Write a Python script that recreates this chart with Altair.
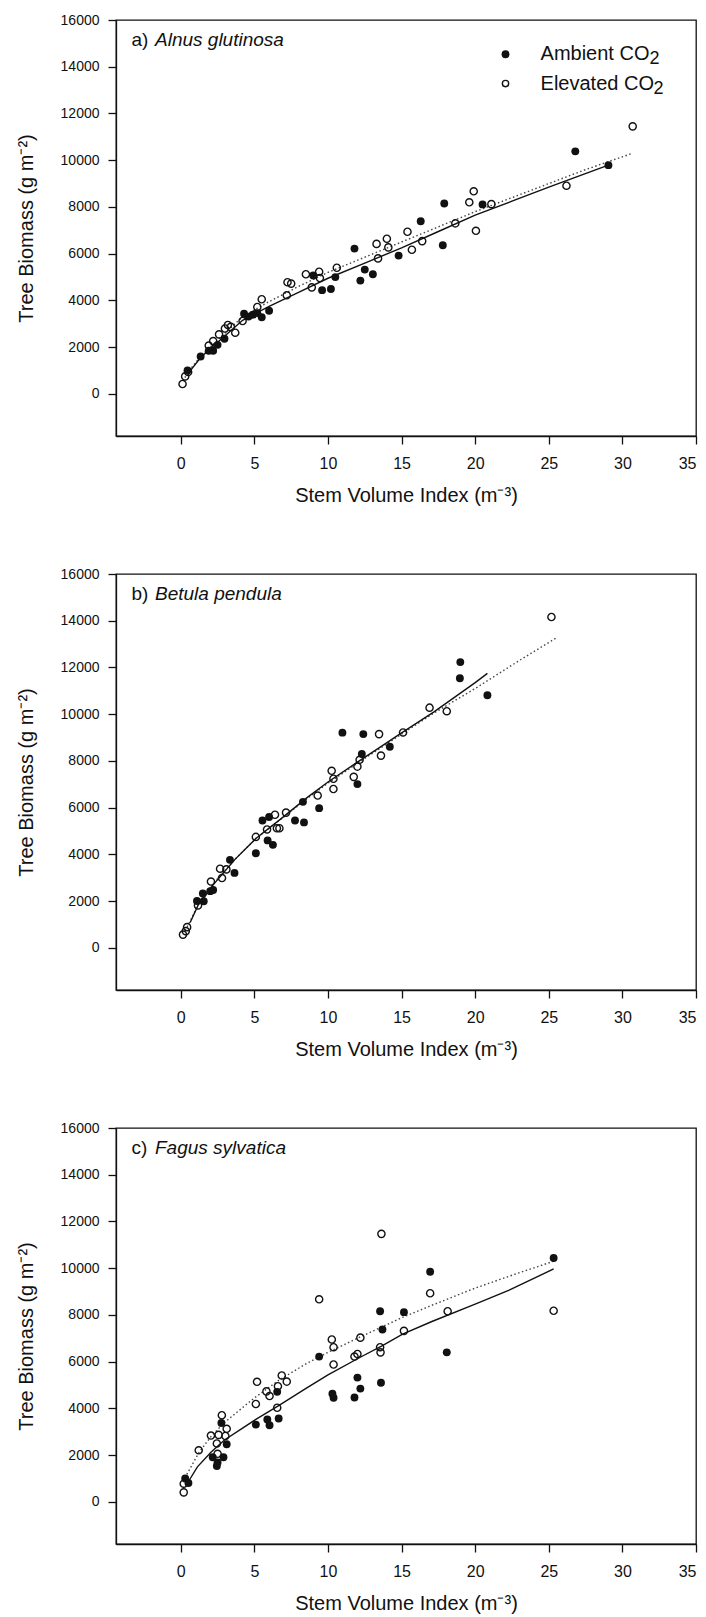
import altair as alt
import pandas as pd

FONT = "Liberation Sans"

# ---------------- Panel a) Alnus glutinosa ----------------
a_amb_x = [0.46, 1.35, 1.9, 2.2, 2.5, 2.97, 4.3, 4.6, 4.9, 5.2, 5.5, 6.0, 9.0, 9.6, 10.2, 10.5,
           11.8, 12.2, 12.5, 13.05, 14.8, 16.3, 17.8, 17.9, 20.5, 26.8, 29.05]
a_amb_y = [1000, 1600, 1850, 1850, 2100, 2360, 3430, 3310, 3390, 3460, 3280, 3560, 5070, 4440, 4490, 5000,
           6220, 4850, 5320, 5120, 5920, 7390, 6360, 8150, 8110, 10380, 9790]
a_ele_x = [0.12, 0.3, 0.5, 1.9, 2.2, 2.6, 3.0, 3.2, 3.4, 3.7, 4.2, 5.2, 5.5, 7.2, 7.25, 7.5, 8.5, 8.9,
           9.4, 9.45, 10.6, 13.3, 13.4, 14.0, 14.1, 15.4, 15.7, 16.4, 18.65, 19.6, 19.9, 20.05, 21.1,
           26.2, 30.7]
a_ele_y = [425, 750, 940, 2070, 2260, 2550, 2800, 2950, 2870, 2620, 3120, 3720, 4050, 4220, 4780, 4720,
           5120, 4560, 5230, 4960, 5400, 6420, 5800, 6640, 6270, 6940, 6170, 6540, 7300, 8200, 8670,
           6980, 8120, 8910, 11450]
a_fit_amb_x = [0.52, 1.35, 2.66, 4.2, 6.0, 8.0, 10.0, 12.5, 15.0, 17.5, 20.0, 22.5, 25.0, 29.05]
a_fit_amb_y = [890, 1560, 2300, 3150, 3750, 4350, 4950, 5600, 6250, 6950, 7650, 8250, 8850, 9790]
a_fit_ele_x = [0.15, 0.5, 1.35, 2.66, 4.2, 6.0, 8.0, 10.0, 12.5, 15.0, 17.5, 20.0, 22.5, 25.0, 27.5, 30.7]
a_fit_ele_y = [550, 950, 1600, 2400, 3300, 3950, 4600, 5200, 5850, 6500, 7150, 7800, 8400, 9000, 9600, 10300]

# ---------------- Panel b) Betula pendula ----------------
b_amb_x = [1.1, 1.5, 1.56, 2.0, 2.2, 3.34, 3.65, 5.1, 5.55, 6.0, 5.9, 6.26, 7.76, 8.37, 8.3, 9.4,
           10.98, 12.0, 12.3, 12.4, 14.2, 18.96, 18.99, 20.83]
b_amb_y = [2010, 2330, 2000, 2430, 2480, 3770, 3210, 4050, 5450, 5600, 4600, 4410, 5450, 5370, 6250, 5980,
           9210, 7010, 8300, 9150, 8610, 11540, 12230, 10810]
b_ele_x = [0.15, 0.34, 0.43, 1.17, 2.05, 2.8, 2.67, 3.1, 5.1, 5.86, 6.4, 6.53, 6.7, 7.15, 9.3, 10.25,
           10.37, 10.37, 11.75, 12.0, 12.15, 13.47, 13.6, 15.1, 16.9, 18.07, 25.18]
b_ele_y = [570, 720, 890, 1820, 2840, 2990, 3390, 3360, 4750, 5070, 5700, 5120, 5120, 5790, 6520, 7580,
           7240, 6800, 7320, 7760, 8050, 9150, 8230, 9220, 10280, 10130, 14160]
b_fit_amb_x = [0.64, 1.17, 2.2, 3.7, 5.1, 6.78, 8.6, 10.0, 12.0, 13.8, 15.0, 17.2, 20.0, 20.83]
b_fit_amb_y = [1085, 1820, 2700, 3800, 4680, 5510, 6440, 7100, 7950, 8700, 9200, 10100, 11350, 11750]
b_fit_ele_x = [0.3, 0.64, 1.17, 2.2, 3.7, 5.1, 6.78, 8.6, 10.0, 12.0, 13.8, 15.0, 17.2, 20.0, 21.0, 23.0, 25.6]
b_fit_ele_y = [750, 1150, 1850, 2750, 3800, 4680, 5500, 6400, 7050, 7900, 8650, 9150, 10050, 11100, 11500, 12300, 13300]

# ---------------- Panel c) Fagus sylvatica ----------------
c_amb_x = [0.3, 0.52, 2.17, 2.45, 2.5, 2.76, 2.9, 3.12, 5.1, 5.88, 6.03, 6.55, 6.65, 9.4, 10.3, 10.38,
           11.8, 12.0, 12.2, 13.54, 13.6, 13.7, 15.16, 16.94, 18.07, 25.33]
c_amb_y = [1000, 810, 1910, 1540, 1690, 3380, 1910, 2470, 3310, 3530, 3280, 4710, 3570, 6220, 4630, 4460,
           4470, 5320, 4850, 8160, 5100, 7380, 8120, 9850, 6400, 10440]
c_ele_x = [0.2, 0.2, 1.22, 2.05, 2.45, 2.5, 2.57, 2.79, 3.12, 3.03, 5.1, 5.18, 5.82, 6.03, 6.55, 6.6,
           6.86, 7.2, 9.4, 10.26, 10.38, 10.38, 11.8, 12.0, 12.2, 13.54, 13.57, 13.63, 15.16, 16.94,
           18.13, 25.33]
c_ele_y = [410, 780, 2210, 2840, 2500, 2060, 2870, 3710, 3130, 2820, 4190, 5140, 4730, 4530, 4030, 4950,
           5410, 5150, 8670, 6950, 6620, 5880, 6220, 6330, 7030, 6620, 6400, 11470, 7320, 8930,
           8160, 8180]
c_fit_amb_x = [0.46, 1.13, 2.05, 2.97, 4.2, 5.1, 6.65, 8.48, 10.0, 12.16, 13.7, 15.07, 17.06, 20.0, 22.27, 25.33]
c_fit_amb_y = [810, 1500, 2130, 2650, 3160, 3530, 4120, 4850, 5440, 6180, 6690, 7180, 7720, 8460, 9050, 9970]
c_fit_ele_x = [0.28, 1.22, 2.05, 2.97, 5.0, 6.65, 8.48, 10.0, 12.16, 15.07, 17.0, 20.0, 22.5, 25.33]
c_fit_ele_y = [1030, 2100, 2800, 3400, 4450, 5200, 5900, 6400, 7050, 7900, 8400, 9150, 9700, 10300]

panel_ids = ["a)", "b)", "c)"]
species = ["Alnus glutinosa", "Betula pendula", "Fagus sylvatica"]

legend_labels = ["Ambient CO", "Elevated CO"]
legend_sub = ["2", "2"]
legend_y = [14536, 13281]

x_ticks = [0, 5, 10, 15, 20, 25, 30, 35]
y_ticks = [0, 2000, 4000, 6000, 8000, 10000, 12000, 14000, 16000]

X_DOMAIN = [-4.4, 35]
Y_DOMAIN = [-1800, 16000]

xs = alt.Scale(domain=X_DOMAIN, nice=False, zero=False)
ys = alt.Scale(domain=Y_DOMAIN, nice=False, zero=False)

x_axis = alt.Axis(values=x_ticks, format="d", title="Stem Volume Index (m\u207b\u00b3)",
                  labelFontSize=16, titleFontSize=20, labelPadding=11, titlePadding=14,
                  tickSize=8, grid=False, labelFont=FONT, titleFont=FONT,
                  titleFontWeight="normal", labelColor="#111", titleColor="#111",
                  domainColor="#111", tickColor="#111")
y_axis = alt.Axis(values=y_ticks, format="d", title="Tree Biomass (g m\u207b\u00b2)",
                  labelFontSize=14, titleFontSize=20, labelPadding=9, titlePadding=24,
                  tickSize=8, grid=False, labelFont=FONT, titleFont=FONT,
                  titleFontWeight="normal", labelColor="#111", titleColor="#111",
                  domainColor="#111", tickColor="#111")


def panel(i, amb_x, amb_y, ele_x, ele_y, fa_x, fa_y, fe_x, fe_y, with_legend=False):
    amb = pd.DataFrame({"x": amb_x, "y": amb_y})
    ele = pd.DataFrame({"x": ele_x, "y": ele_y})
    fa = pd.DataFrame({"x": fa_x, "y": fa_y})
    fe = pd.DataFrame({"x": fe_x, "y": fe_y})

    enc = dict(x=alt.X("x:Q", scale=xs, axis=x_axis), y=alt.Y("y:Q", scale=ys, axis=y_axis))
    penc = dict(x=alt.X("x:Q", scale=xs), y=alt.Y("y:Q", scale=ys))

    line_a = alt.Chart(fa).mark_line(color="#111", strokeWidth=1.4).encode(**enc)
    line_e = alt.Chart(fe).mark_line(color="#444", strokeWidth=1.4, strokeDash=[1.5, 2.5]).encode(**enc)
    pts_e = alt.Chart(ele).mark_point(shape="circle", filled=False, size=52, stroke="#111",
                                      strokeWidth=1.4, opacity=1).encode(**enc)
    pts_a = alt.Chart(amb).mark_point(shape="circle", filled=True, size=62, color="#111",
                                      opacity=1).encode(**enc)

    lab = pd.DataFrame({"x": [-3.35], "y": [15150], "t": [panel_ids[i]]})
    sp = pd.DataFrame({"x": [-1.75], "y": [15150], "t": [species[i]]})
    t1 = alt.Chart(lab).mark_text(align="left", baseline="middle", fontSize=19, font=FONT,
                                  color="#111").encode(text="t:N", **penc)
    t2 = alt.Chart(sp).mark_text(align="left", baseline="middle", fontSize=19, font=FONT,
                                 fontStyle="italic", color="#111").encode(text="t:N", **penc)

    layers = [line_e, line_a, pts_e, pts_a, t1, t2]

    if with_legend:
        lg_f = pd.DataFrame({"x": [22.06], "y": [legend_y[0]]})
        lg_o = pd.DataFrame({"x": [22.06], "y": [legend_y[1]]})
        lg_t = pd.DataFrame({"x": [24.44, 24.44], "y": legend_y, "t": legend_labels})
        lg_s1 = pd.DataFrame({"x": [24.44], "y": [legend_y[0]], "t": [legend_sub[0]]})
        lg_s2 = pd.DataFrame({"x": [24.44], "y": [legend_y[1]], "t": [legend_sub[1]]})
        layers += [
            alt.Chart(lg_f).mark_point(shape="circle", filled=True, size=62, color="#111", opacity=1)
               .encode(**penc),
            alt.Chart(lg_o).mark_point(shape="circle", filled=False, size=40, stroke="#111",
                                       strokeWidth=1.4, opacity=1).encode(**penc),
            alt.Chart(lg_t).mark_text(align="left", baseline="middle", fontSize=20, font=FONT,
                                      color="#111").encode(text="t:N", **penc),
            alt.Chart(lg_s1).mark_text(align="left", baseline="middle", fontSize=18, font=FONT,
                                       color="#111", dx=109, dy=5).encode(text="t:N", **penc),
            alt.Chart(lg_s2).mark_text(align="left", baseline="middle", fontSize=18, font=FONT,
                                       color="#111", dx=113, dy=5).encode(text="t:N", **penc),
        ]
    return alt.layer(*layers).properties(width=580, height=416)


pa = panel(0, a_amb_x, a_amb_y, a_ele_x, a_ele_y, a_fit_amb_x, a_fit_amb_y, a_fit_ele_x, a_fit_ele_y, with_legend=True)
pb = panel(1, b_amb_x, b_amb_y, b_ele_x, b_ele_y, b_fit_amb_x, b_fit_amb_y, b_fit_ele_x, b_fit_ele_y)
pc = panel(2, c_amb_x, c_amb_y, c_ele_x, c_ele_y, c_fit_amb_x, c_fit_amb_y, c_fit_ele_x, c_fit_ele_y)

chart = alt.vconcat(pa, pb, pc, spacing=60).properties(
    padding={"left": 15, "top": 12, "right": 5, "bottom": 0},
    background="white",
).configure_view(stroke="#111", strokeWidth=1.3).configure_axis(domainWidth=1.3, tickWidth=1.3)

chart.save("out.html", embed_options={"renderer": "svg", "actions": False})
